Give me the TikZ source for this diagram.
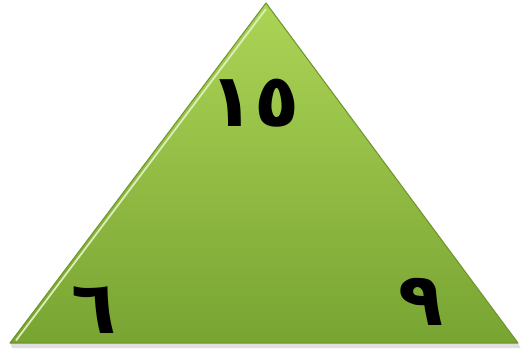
\documentclass[tikz,border=0pt]{standalone}
\usepackage{fontspec}
\newfontfamily\arabicfont[Script=Arabic]{DejaVu Sans}
\definecolor{GreenTop}{RGB}{172,212,86}
\definecolor{GreenBottom}{RGB}{120,164,50}
\definecolor{EdgeColor}{RGB}{110,150,45}
\usetikzlibrary{calc, shadings}
\tikzset{
  num/.style={font=\arabicfont\bfseries\fontsize{42}{46}\selectfont, inner sep=0pt}
}

\begin{document}
\begin{tikzpicture}
          \useasboundingbox[fill=white] (0,0) rectangle (10.42,7.06);
          % corners
          \coordinate (apex) at (5.32,7.0);
          \coordinate (bl) at (0.2,0.2);
          \coordinate (br) at (10.36,0.2);
          % shadow
          \fill[gray!25] ($(bl)+(0.05,-0.1)$) -- ($(br)+(0.05,-0.1)$) -- (br) -- (bl) -- cycle;
          % triangle
          \shade[top color=GreenTop, bottom color=GreenBottom] (apex) -- (br) -- (bl) -- cycle;
          \draw[EdgeColor, line width=0.6pt, line join=round] (apex) -- (br) -- (bl) -- cycle;
          \draw[white!60!GreenTop, line width=1pt] ($(bl)+(0.12,0.05)$) -- ($(apex)+(0,-0.12)$);
          % numbers
          \node[num] (top) at (5.1,5.0) {١٥};
          \node[num] (left) at (1.88,0.86) {٦};
          \node[num] (right) at (8.42,1.02) {٩};
        \end{tikzpicture}
\end{document}
